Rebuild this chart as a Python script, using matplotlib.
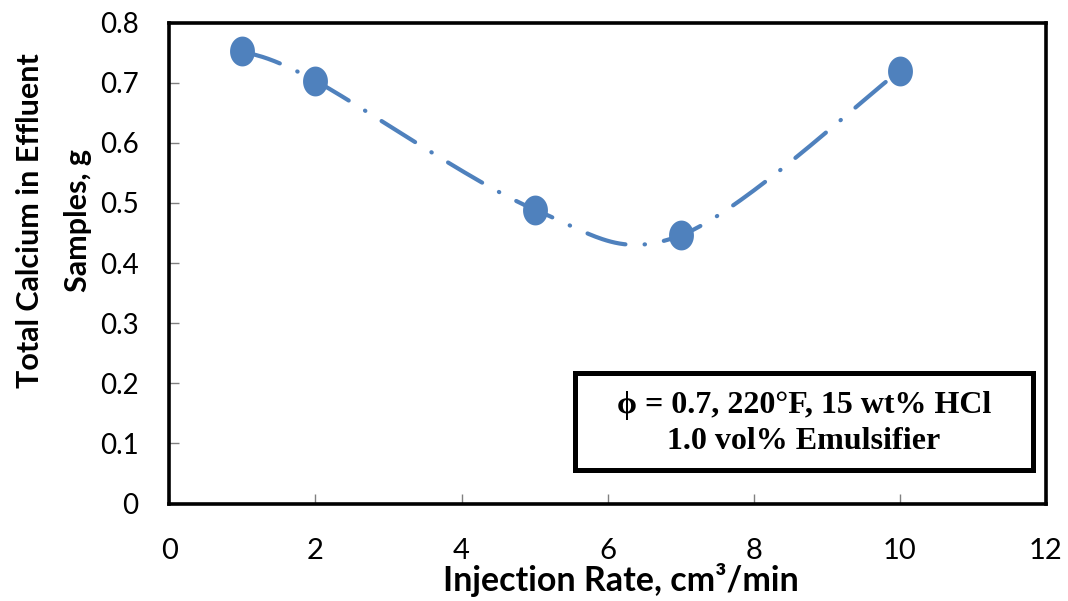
import numpy as np
import matplotlib
matplotlib.use("Agg")
import matplotlib.pyplot as plt
from matplotlib.path import Path
from matplotlib.patches import Rectangle

# Injection rate (cm3/min) and total calcium collected in effluent samples (g)
injection_rate = [1, 2, 5, 7, 10]
total_calcium = [0.753, 0.703, 0.489, 0.446, 0.720]

x_ticks = [0, 2, 4, 6, 8, 10, 12]
y_ticks = [0, 0.1, 0.2, 0.3, 0.4, 0.5, 0.6, 0.7, 0.8]
x_tick_labels = ["0", "2", "4", "6", "8", "10", "12"]
y_tick_labels = ["0", "0.1", "0.2", "0.3", "0.4", "0.5", "0.6", "0.7", "0.8"]

note_lines = ["\u03d5 = 0.7, 220\u00b0F, 15 wt% HCl", "1.0 vol% Emulsifier"]

BLUE = "#4F81BD"
SANS = ["Lato", "DejaVu Sans"]


def smooth_curve(xs, ys, n=60):
    """Spreadsheet-style smoothed line: cubic Bezier segments with
    Catmull-Rom control points (tension 1/6)."""
    p = np.column_stack([xs, ys]).astype(float)
    ext = np.vstack([p[0], p, p[-1]])
    out = []
    t = np.linspace(0, 1, n)[:, None]
    for i in range(len(p) - 1):
        p0, p1 = ext[i + 1], ext[i + 2]
        c1 = p0 + (ext[i + 2] - ext[i]) / 6.0
        c2 = p1 - (ext[i + 3] - ext[i + 1]) / 6.0
        seg = ((1 - t) ** 3) * p0 + 3 * ((1 - t) ** 2) * t * c1 \
            + 3 * (1 - t) * t ** 2 * c2 + t ** 3 * p1
        out.append(seg if i == 0 else seg[1:])
    seg = np.vstack(out)
    return seg[:, 0], seg[:, 1]


# slightly tall elliptical marker
theta = np.linspace(0, 2 * np.pi, 64)
ellipse = Path(np.column_stack([np.cos(theta), 1.2 * np.sin(theta)]), closed=True)

fig = plt.figure(figsize=(10.68, 6.01), dpi=100)
ax = fig.add_axes([0.1585, 0.1622, 0.8209, 0.8003])

sx, sy = smooth_curve(injection_rate, total_calcium)
ax.plot(sx, sy, color=BLUE, lw=3.0, dashes=(9.5, 4.6, 0.1, 4.6),
        dash_capstyle="round", solid_capstyle="round", zorder=3)
ax.plot(injection_rate, total_calcium, linestyle="none", marker=ellipse,
        markersize=21.5, color=BLUE, markeredgewidth=0, zorder=4)

ax.set_xlim(0, 12)
ax.set_ylim(0, 0.8)
ax.set_xticks(x_ticks)
ax.set_xticklabels(x_tick_labels, family=SANS, fontsize=21)
ax.set_yticks(y_ticks)
ax.set_yticklabels(y_tick_labels, family=SANS, fontsize=20)
ax.tick_params(axis="x", direction="in", length=7, width=1, color="#808080", pad=25)
ax.tick_params(axis="y", direction="in", length=7, width=1, color="#808080", pad=22)

for sp in ax.spines.values():
    sp.set_color("black")
    sp.set_linewidth(2.6)

ax.set_xlabel("Injection Rate, cm\u00b3/min", family=SANS, fontsize=24.5,
              fontweight="bold", labelpad=-1)
ax.xaxis.label.set_x(0.515)
ax.set_ylabel("Total Calcium in Effluent\nSamples, g", family=SANS, fontsize=22,
              fontweight="bold", linespacing=1.85, labelpad=6)
ax.yaxis.label.set_y(0.589)

# annotation box with the test conditions
bw, bh = 0.522, 0.2017
bx, by = 0.724 - bw / 2, 0.170 - bh / 2
ax.add_patch(Rectangle((bx, by), bw, bh, transform=ax.transAxes,
                       facecolor="white", edgecolor="black", lw=3.6, zorder=5))
serif = ["Liberation Serif", "DejaVu Serif"]
ax.text(0.724, 0.203, note_lines[0], transform=ax.transAxes, ha="center",
        va="center", family=serif, fontsize=23, fontweight="bold", zorder=6)
ax.text(0.724, 0.128, note_lines[1], transform=ax.transAxes, ha="center",
        va="center", family=serif, fontsize=23, fontweight="bold", zorder=6)

fig.savefig("out.png", dpi=100)
